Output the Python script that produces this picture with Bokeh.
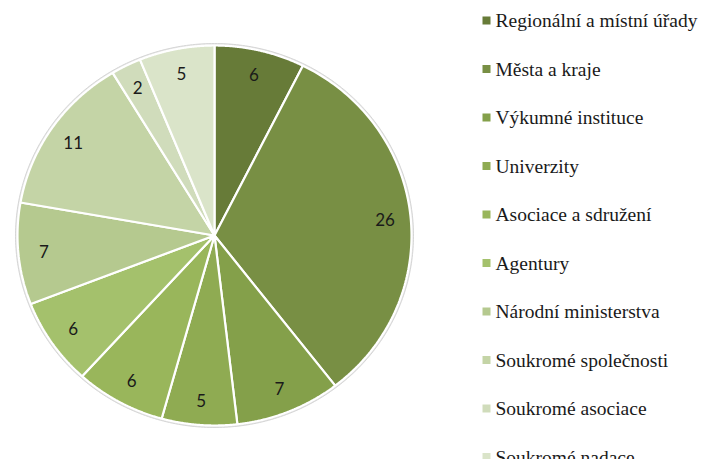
import numpy as np
from bokeh.plotting import figure
from bokeh.models import ColumnDataSource
from bokeh.core.properties import value
from bokeh.embed import file_html
from bokeh.resources import INLINE

categories = ["Regionální a místní úřady", "Města a kraje", "Výkumné instituce",
              "Univerzity", "Asociace a sdružení", "Agentury", "Národní ministerstva",
              "Soukromé společnosti", "Soukromé asociace", "Soukromé nadace"]
counts = [6, 26, 7, 5, 6, 6, 7, 11, 2, 5]
colors = ["#677b38", "#788f44", "#84a04a", "#8fab52", "#99b65b", "#a4c16c",
          "#b5c98f", "#c4d4a6", "#d0dcbb", "#dae4c9"]

W, H = 699, 459
p = figure(width=W, height=H, x_range=(0, W), y_range=(0, H),
           output_backend="svg", toolbar_location=None, min_border=0)
p.axis.visible = False
p.grid.visible = False
p.outline_line_color = None
p.background_fill_color = "white"

cx, cy, rx, ry = 214, 459 - 235, 197, 190

vals = np.array(counts, dtype=float)
ends = np.cumsum(vals) / vals.sum() * 2 * np.pi
starts = np.concatenate([[0], ends[:-1]])

# outer soft edge
t = np.linspace(0, 2 * np.pi, 400)
p.patch(cx + (rx + 2) * np.sin(t), cy + (ry + 2) * np.cos(t),
        fill_color="#e4e4e4", line_color="#d6d6d6", line_width=1)

xs, ys = [], []
for a0, a1 in zip(starts, ends):
    tt = np.linspace(a0, a1, 120)
    xs.append(np.concatenate([[cx], cx + rx * np.sin(tt)]))
    ys.append(np.concatenate([[cy], cy + ry * np.cos(tt)]))
src = ColumnDataSource(dict(xs=xs, ys=ys, color=colors))
p.patches("xs", "ys", source=src, fill_color="color", line_color="white", line_width=2.2)

mid = (starts + ends) / 2
lab = ColumnDataSource(dict(x=cx + 0.87 * rx * np.sin(mid), y=cy + 0.87 * ry * np.cos(mid),
                            t=[str(c) for c in counts]))
p.text("x", "y", text="t", source=lab, text_align="center", text_baseline="middle",
       text_font=value("Lato"), text_font_size="17px", text_color="#1a1a1a")

rows = 459 - (20 + np.arange(len(categories)) * 48.5)
leg = ColumnDataSource(dict(x=[486] * len(categories), tx=[495] * len(categories),
                            y=rows, c=colors, t=categories))
p.rect("x", "y", width=8, height=8, source=leg, fill_color="c", line_color=None)
p.text("tx", "y", text="t", source=leg, text_baseline="middle",
       text_font=value("Liberation Serif"), text_font_size="19.5px", text_color="#1a1a1a")

open("out.html", "w").write(file_html(p, INLINE))
